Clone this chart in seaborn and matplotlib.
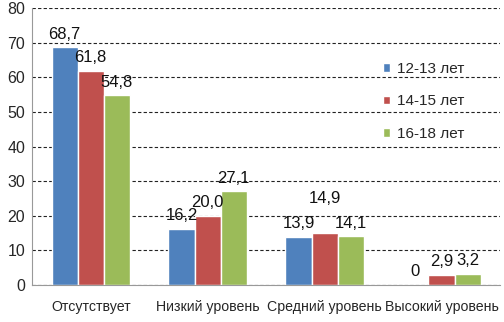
import matplotlib
matplotlib.use('Agg')
import matplotlib.pyplot as plt
import seaborn as sns
import pandas as pd

# Данные
categorias = ['Отсутствует', 'Низкий уровень', 'Средний уровень', 'Высокий уровень']
grupos = ['12-13 лет', '14-15 лет', '16-18 лет']
v_12_13 = [68.7, 16.2, 13.9, 0]
v_14_15 = [61.8, 20.0, 14.9, 2.9]
v_16_18 = [54.8, 27.1, 14.1, 3.2]
colores = ['#4F81BD', '#C0504D', '#9BBB59']

df = pd.DataFrame({
    'cat': categorias * 3,
    'grupo': [grupos[0]] * 4 + [grupos[1]] * 4 + [grupos[2]] * 4,
    'valor': v_12_13 + v_14_15 + v_16_18,
})

sns.set_style('white')
plt.rcParams['font.family'] = ['Liberation Sans', 'DejaVu Sans']

fig, ax = plt.subplots(figsize=(5.04, 3.22), dpi=100)
fig.subplots_adjust(left=0.064, right=0.992, top=0.975, bottom=0.115)

sns.barplot(data=df, x='cat', y='valor', hue='grupo', palette=colores,
            width=0.67, saturation=1, ax=ax, legend=True)

def fmt(v):
    if v == 0:
        return '0'
    return f'{v:.1f}'.replace('.', ',')

# подписи значений над столбиками
conts = ax.containers
for i, cont in enumerate(conts):
    for j, bar in enumerate(cont):
        h = bar.get_height()
        dy = 4
        # подпись средней серии поднимаем, если соседи почти той же высоты
        if i == 1 and abs(h - conts[0][j].get_height()) < 1.5 and abs(h - conts[2][j].get_height()) < 1.5:
            dy = 20
        ax.annotate(fmt(h), (bar.get_x() + bar.get_width() / 2, h),
                    xytext=(0, dy), textcoords='offset points',
                    ha='center', va='bottom', fontsize=12, color='#111111')

ax.set_ylim(0, 80)
ax.set_yticks(range(0, 81, 10))
ax.set_xlim(-0.5, 3.5)
ax.yaxis.grid(True, linestyle=(0, (3, 2)), color='#222222', linewidth=0.8)
ax.set_axisbelow(True)
ax.set_xlabel('')
ax.set_ylabel('')

for s in ['top', 'right']:
    ax.spines[s].set_visible(False)
ax.spines['left'].set_color('#999999')
ax.spines['bottom'].set_color('#999999')

ax.set_xticks([-0.5, 0.5, 1.5, 2.5, 3.5], minor=True)
ax.tick_params(axis='x', which='major', length=0, labelsize=10.2, pad=11)
ax.tick_params(axis='x', which='minor', length=4, color='#999999', direction='out')
ax.tick_params(axis='y', length=0, labelsize=11.5, pad=5)

leg = ax.legend(loc='upper left', bbox_to_anchor=(0.72, 0.855), frameon=False,
                fontsize=11, handlelength=0.5, handleheight=0.5,
                handletextpad=0.4, labelspacing=1.2)

fig.savefig('out.png', dpi=100)
